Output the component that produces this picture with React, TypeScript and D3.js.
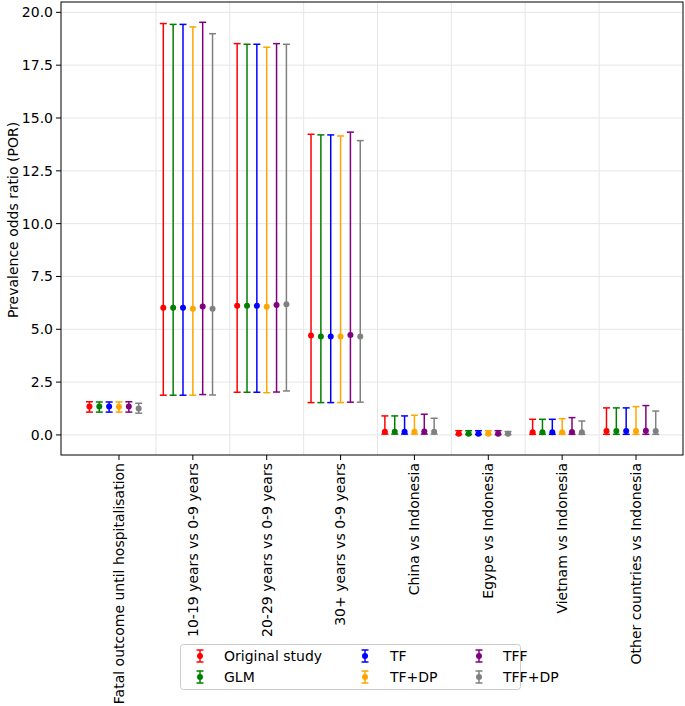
import React from "react";
import * as d3 from "d3";

const categories = [
  "Fatal outcome until hospitalisation",
  "10-19 years vs 0-9 years",
  "20-29 years vs 0-9 years",
  "30+ years vs 0-9 years",
  "China vs Indonesia",
  "Egype vs Indonesia",
  "Vietnam vs Indonesia",
  "Other countries vs Indonesia",
];

const seriesNames = ["Original study", "GLM", "TF", "TF+DP", "TFF", "TFF+DP"];
const seriesColors = ["#ff0000", "#008000", "#0000ff", "#ffa500", "#800080", "#808080"];

const originalEst = [1.34, 6.02, 6.11, 4.7, 0.15, 0.06, 0.13, 0.19];
const originalLo = [1.08, 1.88, 2.02, 1.53, 0.04, 0.02, 0.03, 0.03];
const originalHi = [1.57, 19.47, 18.52, 14.23, 0.9, 0.2, 0.74, 1.28];

const glmEst = [1.34, 6.02, 6.11, 4.66, 0.15, 0.06, 0.13, 0.19];
const glmLo = [1.08, 1.88, 2.02, 1.53, 0.04, 0.02, 0.03, 0.03];
const glmHi = [1.56, 19.43, 18.49, 14.2, 0.9, 0.2, 0.74, 1.28];

const tfEst = [1.34, 6.02, 6.11, 4.66, 0.15, 0.06, 0.13, 0.19];
const tfLo = [1.08, 1.88, 2.02, 1.53, 0.04, 0.02, 0.03, 0.03];
const tfHi = [1.56, 19.43, 18.49, 14.2, 0.9, 0.2, 0.74, 1.28];

const tfdpEst = [1.33, 5.97, 6.07, 4.66, 0.15, 0.06, 0.13, 0.19];
const tfdpLo = [1.08, 1.88, 2.0, 1.53, 0.04, 0.02, 0.03, 0.03];
const tfdpHi = [1.56, 19.31, 18.35, 14.15, 0.93, 0.2, 0.77, 1.34];

const tffEst = [1.34, 6.08, 6.15, 4.73, 0.16, 0.06, 0.14, 0.2];
const tffLo = [1.08, 1.91, 2.03, 1.55, 0.04, 0.02, 0.03, 0.03];
const tffHi = [1.57, 19.53, 18.52, 14.33, 0.98, 0.2, 0.82, 1.39];

const tffdpEst = [1.25, 5.97, 6.18, 4.66, 0.15, 0.05, 0.13, 0.19];
const tffdpLo = [1.03, 1.89, 2.08, 1.55, 0.04, 0.02, 0.03, 0.03];
const tffdpHi = [1.5, 18.99, 18.49, 13.93, 0.79, 0.16, 0.66, 1.13];

const yTicks = [0, 2.5, 5, 7.5, 10, 12.5, 15, 17.5, 20];

const est = [originalEst, glmEst, tfEst, tfdpEst, tffEst, tffdpEst];
const lo = [originalLo, glmLo, tfLo, tfdpLo, tffLo, tffdpLo];
const hi = [originalHi, glmHi, tfHi, tfdpHi, tffHi, tffdpHi];

const W = 685;
const H = 706;
const plotL = 61;
const plotR = 683;
const plotT = 2;
const plotB = 455;

const FONT = "DejaVu Sans, sans-serif";
const FS = 14;

export default function App() {
  const x = d3.scaleLinear().domain([-0.785, 7.636]).range([plotL, plotR]);
  const y = d3.scaleLinear().domain([-0.95, 20.49]).range([plotB, plotT]);
  const offsets = seriesNames.map((_, j) => -0.4 + j * (0.8 / 6));
  const cap = 3.5;

  const legendCols = [
    { mx: 200, tx: 224 },
    { mx: 365, tx: 390 },
    { mx: 479, tx: 503 },
  ];
  const legendRows = [656, 677];

  return (
    <svg
      width={W}
      height={H}
      style={{ position: "absolute", left: 0, top: 0, background: "#fff" }}
      fontFamily={FONT}
    >
      <rect x={0} y={0} width={W} height={H} fill="#fff" />
      {yTicks.map((t) => (
        <line key={"gy" + t} x1={plotL} x2={plotR} y1={y(t)} y2={y(t)} stroke="#e6e6e6" strokeWidth={1} />
      ))}
      {d3.range(0.5, 7, 1).map((t) => (
        <line key={"gx" + t} x1={x(t)} x2={x(t)} y1={plotT} y2={plotB} stroke="#e6e6e6" strokeWidth={1} />
      ))}
      {seriesNames.map((name, j) => (
        <g key={name}>
          {categories.map((c, i) => {
            const cx = x(i + offsets[j]);
            return (
              <g key={c}>
                <line x1={cx} x2={cx} y1={y(lo[j][i])} y2={y(hi[j][i])} stroke={seriesColors[j]} strokeWidth={1.5} />
                <line x1={cx - cap} x2={cx + cap} y1={y(lo[j][i])} y2={y(lo[j][i])} stroke={seriesColors[j]} strokeWidth={1.5} />
                <line x1={cx - cap} x2={cx + cap} y1={y(hi[j][i])} y2={y(hi[j][i])} stroke={seriesColors[j]} strokeWidth={1.5} />
                <circle cx={cx} cy={y(est[j][i])} r={3} fill={seriesColors[j]} />
              </g>
            );
          })}
        </g>
      ))}
      <rect x={plotL} y={plotT} width={plotR - plotL} height={plotB - plotT} fill="none" stroke="#000" strokeWidth={1} />
      {yTicks.map((t) => (
        <g key={"yt" + t}>
          <line x1={plotL - 5} x2={plotL} y1={y(t)} y2={y(t)} stroke="#000" strokeWidth={1} />
          <text x={plotL - 8} y={y(t)} dy="0.35em" textAnchor="end" fontSize={FS} fill="#000">
            {t.toFixed(1)}
          </text>
        </g>
      ))}
      <text
        transform={`translate(13, 220) rotate(-90)`}
        textAnchor="middle"
        dy="0.35em"
        fontSize={FS}
        fill="#000"
      >
        Prevalence odds ratio (POR)
      </text>
      {categories.map((c, i) => (
        <g key={"xt" + i}>
          <line x1={x(i)} x2={x(i)} y1={plotB} y2={plotB + 5} stroke="#000" strokeWidth={1} />
          <text
            transform={`translate(${x(i)}, ${plotB + 8}) rotate(-90)`}
            textAnchor="end"
            dy="0.35em"
            fontSize={FS}
            fill="#000"
          >
            {c}
          </text>
        </g>
      ))}
      <rect x={180.5} y={644.5} width={340} height={45} rx={3} fill="#fff" fillOpacity={0.8} stroke="#cccccc" strokeWidth={1} />
      {seriesNames.map((name, j) => {
        const col = legendCols[Math.floor(j / 2)];
        const ry = legendRows[j % 2];
        return (
          <g key={"lg" + name}>
            <line x1={col.mx} x2={col.mx} y1={ry - 6} y2={ry + 6} stroke={seriesColors[j]} strokeWidth={1.5} />
            <line x1={col.mx - 3.5} x2={col.mx + 3.5} y1={ry - 6} y2={ry - 6} stroke={seriesColors[j]} strokeWidth={1.5} />
            <line x1={col.mx - 3.5} x2={col.mx + 3.5} y1={ry + 6} y2={ry + 6} stroke={seriesColors[j]} strokeWidth={1.5} />
            <circle cx={col.mx} cy={ry} r={3} fill={seriesColors[j]} />
            <text x={col.tx} y={ry} dy="0.35em" fontSize={FS} fill="#000">
              {name}
            </text>
          </g>
        );
      })}
    </svg>
  );
}
